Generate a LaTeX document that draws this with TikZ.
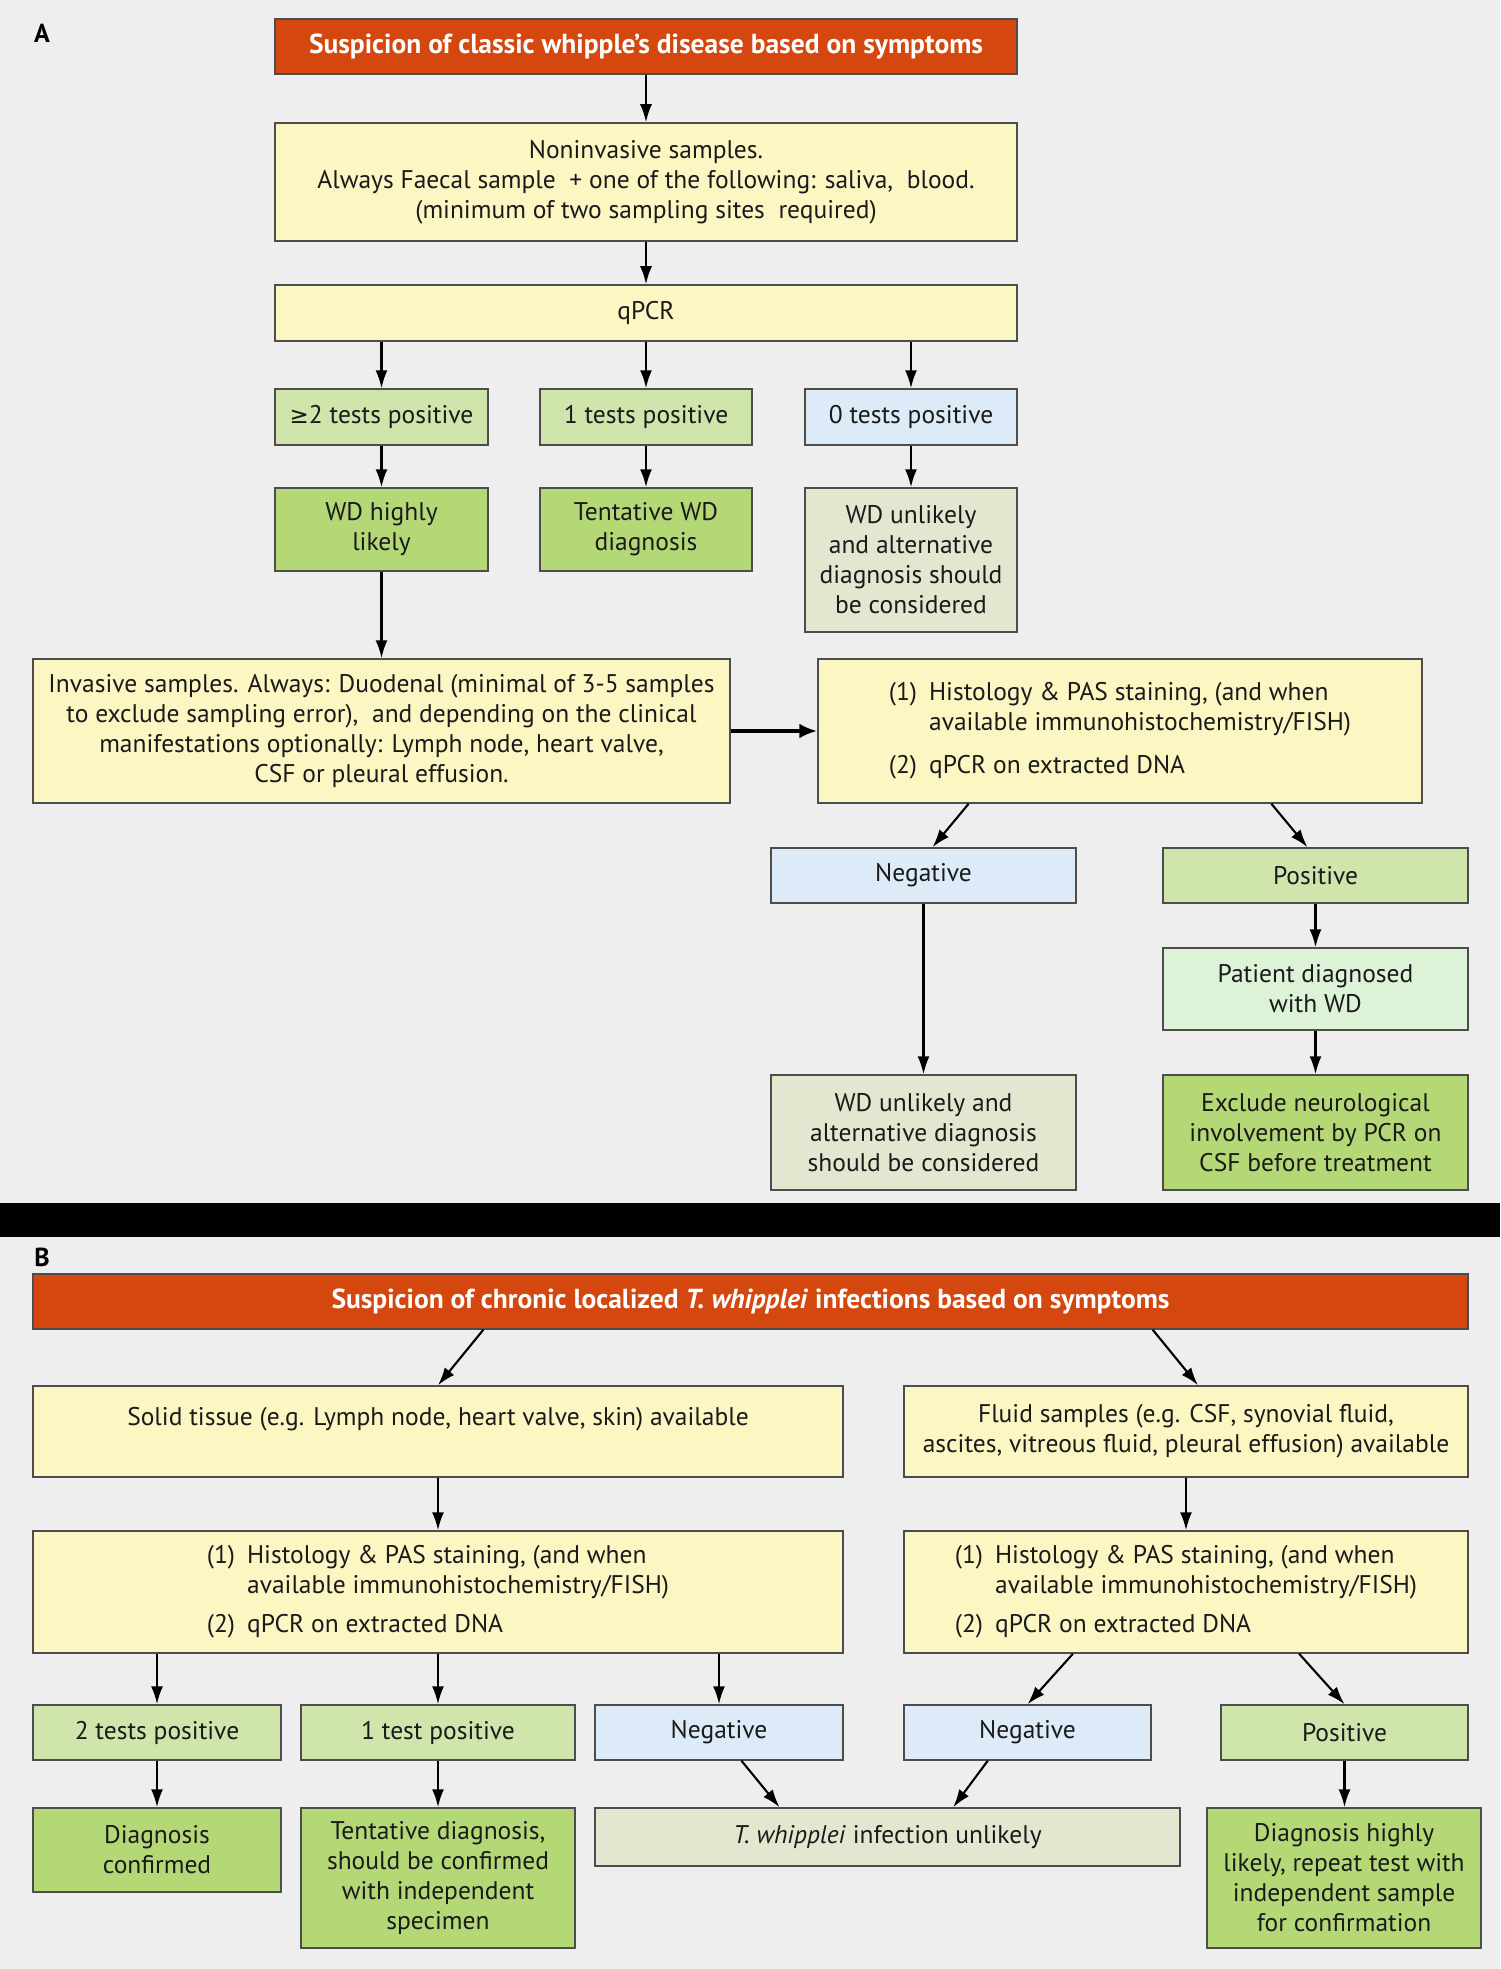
\documentclass[tikz,border=0pt]{standalone}
\usepackage{fontspec}
\setmainfont{PT Sans}
\newfontfamily\symfont{DejaVu Sans}
\usetikzlibrary{arrows.meta, positioning, calc}
\usepackage{xcolor}

\definecolor{bgcol}{HTML}{EEEEEE}
\definecolor{titlered}{HTML}{D4470F}
\definecolor{sampleyellow}{HTML}{FCF6C3}
\definecolor{testgreen}{HTML}{D0E5AC}
\definecolor{resultgreen}{HTML}{B5D877}
\definecolor{negblue}{HTML}{DDEBF9}
\definecolor{unlikelygray}{HTML}{E4E6D0}
\definecolor{patientgreen}{HTML}{DDF3D8}
\definecolor{boxline}{HTML}{4D4D4D}
\definecolor{txtcol}{HTML}{1A1A1A}

\begin{document}
\begin{tikzpicture}[x=1pt, y=-1pt,
  box/.style={rectangle, draw=boxline, line width=1.5pt, inner sep=0pt, align=center, text=txtcol, font=\fontsize{25.5}{30}\selectfont},
  titlebox/.style={box, fill=titlered, text=white, font=\fontsize{27.5}{30}\selectfont\bfseries},
  samplebox/.style={box, fill=sampleyellow},
  testbox/.style={box, fill=testgreen},
  resultbox/.style={box, fill=resultgreen},
  negbox/.style={box, fill=negblue},
  unlikelybox/.style={box, fill=unlikelygray},
  patientbox/.style={box, fill=patientgreen},
  panel/.style={font=\fontsize{26}{30}\selectfont\bfseries, inner sep=0pt},
  arrow/.style={-{Latex[length=18pt, width=12pt]}, line width=2.1pt},
  thickarrow/.style={-{Latex[length=18pt, width=15pt]}, line width=3.8pt}
]
  \useasboundingbox (0,0) rectangle (1500,1969);
  \fill[bgcol] (0,0) rectangle (1500,1969);
  \fill[black] (0,1203) rectangle (1500,1237);

  % panel A
  \node[panel] (labelA) at (42,33) {A};
  \node[titlebox, minimum width=742pt, minimum height=55pt] (titleA) at (646,46.5) {Suspicion of classic whipple’s disease based on symptoms};
  \node[samplebox, minimum width=742pt, minimum height=118pt] (noninv) at (646,182) {Noninvasive samples.\\Always Faecal sample\ \ + one of the following: saliva,\ \ blood.\\(minimum of two sampling sites\ \ required)};
  \node[samplebox, minimum width=742pt, minimum height=56pt] (qpcr) at (646,313) {qPCR};

  \node[testbox, minimum width=213pt, minimum height=56pt] (twoposA) at (381.5,417) {{\symfont\fontsize{23}{28}\selectfont ≥}2 tests positive};
  \node[testbox, minimum width=212pt, minimum height=56pt] (oneposA) at (646,417) {1 tests positive};
  \node[negbox, minimum width=212pt, minimum height=56pt] (zeroposA) at (911,417) {0 tests positive};

  \node[resultbox, minimum width=213pt, minimum height=83pt] (likelyA) at (381.5,529.5) {WD highly\\likely};
  \node[resultbox, minimum width=212pt, minimum height=83pt] (tentA) at (646,529.5) {Tentative WD\\diagnosis};
  \node[unlikelybox, minimum width=212pt, minimum height=144pt] (unlikelyA) at (911,560) {WD unlikely\\and alternative\\diagnosis should\\be considered};

  \node[samplebox, minimum width=697pt, minimum height=144pt] (invasive) at (381.5,731) {Invasive samples. Always: Duodenal (minimal of 3-5 samples\\to exclude sampling error),\ \ and depending on the clinical\\manifestations optionally: Lymph node, heart valve,\\CSF or pleural effusion.};
  \node[samplebox, minimum width=604pt, minimum height=144pt] (histoA) at (1120,731) {\begin{tabular}{@{}l@{\hspace{12pt}}l@{}}(1) & Histology \& PAS staining, (and when\\ & available immunohistochemistry/FISH)\\[13pt](2) & qPCR on extracted DNA\end{tabular}};

  \node[negbox, minimum width=305pt, minimum height=55pt] (negA) at (923.5,875.5) {Negative};
  \node[testbox, minimum width=305pt, minimum height=55pt] (posA) at (1315.5,875.5) {Positive};
  \node[patientbox, minimum width=305pt, minimum height=82pt] (patient) at (1315.5,989) {Patient diagnosed\\with WD};
  \node[unlikelybox, minimum width=305pt, minimum height=115pt] (altA) at (923.5,1132.5) {WD unlikely and\\alternative diagnosis\\should be considered};
  \node[resultbox, minimum width=305pt, minimum height=115pt] (exclude) at (1315.5,1132.5) {Exclude neurological\\involvement by PCR on\\CSF before treatment};

  \draw[arrow] (titleA) -- (noninv);
  \draw[arrow] (noninv) -- (qpcr);
  \draw[arrow] (qpcr.south -| twoposA) -- (twoposA);
  \draw[arrow] (qpcr) -- (oneposA);
  \draw[arrow] (qpcr.south -| zeroposA) -- (zeroposA);
  \draw[arrow] (twoposA) -- (likelyA);
  \draw[arrow] (oneposA) -- (tentA);
  \draw[arrow] (zeroposA) -- (unlikelyA);
  \draw[arrow] (likelyA) -- (invasive.north -| likelyA);
  \draw[thickarrow] (invasive) -- (histoA);
  \draw[arrow] ($(histoA.south west)!0.25!(histoA.south east)$) -- ([xshift=9pt]negA.north);
  \draw[arrow] ($(histoA.south west)!0.75!(histoA.south east)$) -- ([xshift=-8pt]posA.north);
  \draw[arrow] (negA) -- (altA);
  \draw[arrow] (posA) -- (patient);
  \draw[arrow] (patient) -- (exclude);

  % panel B
  \node[panel] (labelB) at (42,1257) {B};
  \node[titlebox, minimum width=1435pt, minimum height=55pt] (titleB) at (750.5,1301.5) {Suspicion of chronic localized \textit{T. whipplei} infections based on symptoms};
  \node[samplebox, minimum width=810pt, minimum height=91pt] (solid) at (438,1431.5) {Solid tissue (e.g. Lymph node, heart valve, skin) available\\\mbox{}};
  \node[samplebox, minimum width=564pt, minimum height=91pt] (fluid) at (1186,1431.5) {Fluid samples (e.g. CSF, synovial fluid,\\ascites, vitreous fluid, pleural effusion) available};
  \node[samplebox, minimum width=810pt, minimum height=122pt] (histoB1) at (438,1592) {\begin{tabular}{@{}l@{\hspace{12pt}}l@{}}(1) & Histology \& PAS staining, (and when\\ & available immunohistochemistry/FISH)\\[9pt](2) & qPCR on extracted DNA\end{tabular}};
  \node[samplebox, minimum width=564pt, minimum height=122pt] (histoB2) at (1186,1592) {\begin{tabular}{@{}l@{\hspace{12pt}}l@{}}(1) & Histology \& PAS staining, (and when\\ & available immunohistochemistry/FISH)\\[9pt](2) & qPCR on extracted DNA\end{tabular}};

  \node[testbox, minimum width=248pt, minimum height=55pt] (twoposB) at (157,1732.5) {2 tests positive};
  \node[testbox, minimum width=274pt, minimum height=55pt] (oneposB) at (438,1732.5) {1 test positive};
  \node[negbox, minimum width=248pt, minimum height=55pt] (negB1) at (719,1732.5) {Negative};
  \node[negbox, minimum width=247pt, minimum height=55pt] (negB2) at (1027.5,1732.5) {Negative};
  \node[testbox, minimum width=247pt, minimum height=55pt] (posB) at (1344.5,1732.5) {Positive};

  \node[resultbox, minimum width=248pt, minimum height=84pt] (confirmed) at (157,1850) {Diagnosis\\confirmed};
  \node[resultbox, minimum width=274pt, minimum height=140pt] (tentB) at (438,1878) {Tentative diagnosis,\\should be confirmed\\with independent\\specimen};
  \node[unlikelybox, minimum width=585pt, minimum height=58pt] (unlikelyB) at (887.5,1837) {\textit{T. whipplei} infection unlikely};
  \node[resultbox, minimum width=274pt, minimum height=140pt] (highly) at (1344,1878) {Diagnosis highly\\likely, repeat test with\\independent sample\\for confirmation};

  \draw[arrow] ($(titleB.south west)!0.314!(titleB.south east)$) -- (solid.north);
  \draw[arrow] ($(titleB.south west)!0.78!(titleB.south east)$) -- ([xshift=12pt]fluid.north);
  \draw[arrow] (solid) -- (histoB1);
  \draw[arrow] (fluid) -- (histoB2);
  \draw[arrow] (histoB1.south -| twoposB) -- (twoposB);
  \draw[arrow] (histoB1) -- (oneposB);
  \draw[arrow] (histoB1.south -| negB1) -- (negB1);
  \draw[arrow] ($(histoB2.south west)!0.30!(histoB2.south east)$) -- (negB2.north);
  \draw[arrow] ($(histoB2.south west)!0.70!(histoB2.south east)$) -- (posB.north);
  \draw[arrow] (twoposB) -- (confirmed);
  \draw[arrow] (oneposB) -- (tentB);
  \draw[arrow] (posB) -- (highly.north -| posB);
  \draw[arrow] ($(negB1.south west)!0.59!(negB1.south east)$) -- ($(unlikelyB.north west)!0.316!(unlikelyB.north east)$);
  \draw[arrow] ($(negB2.south west)!0.34!(negB2.south east)$) -- ($(unlikelyB.north west)!0.612!(unlikelyB.north east)$);
\end{tikzpicture}
\end{document}
